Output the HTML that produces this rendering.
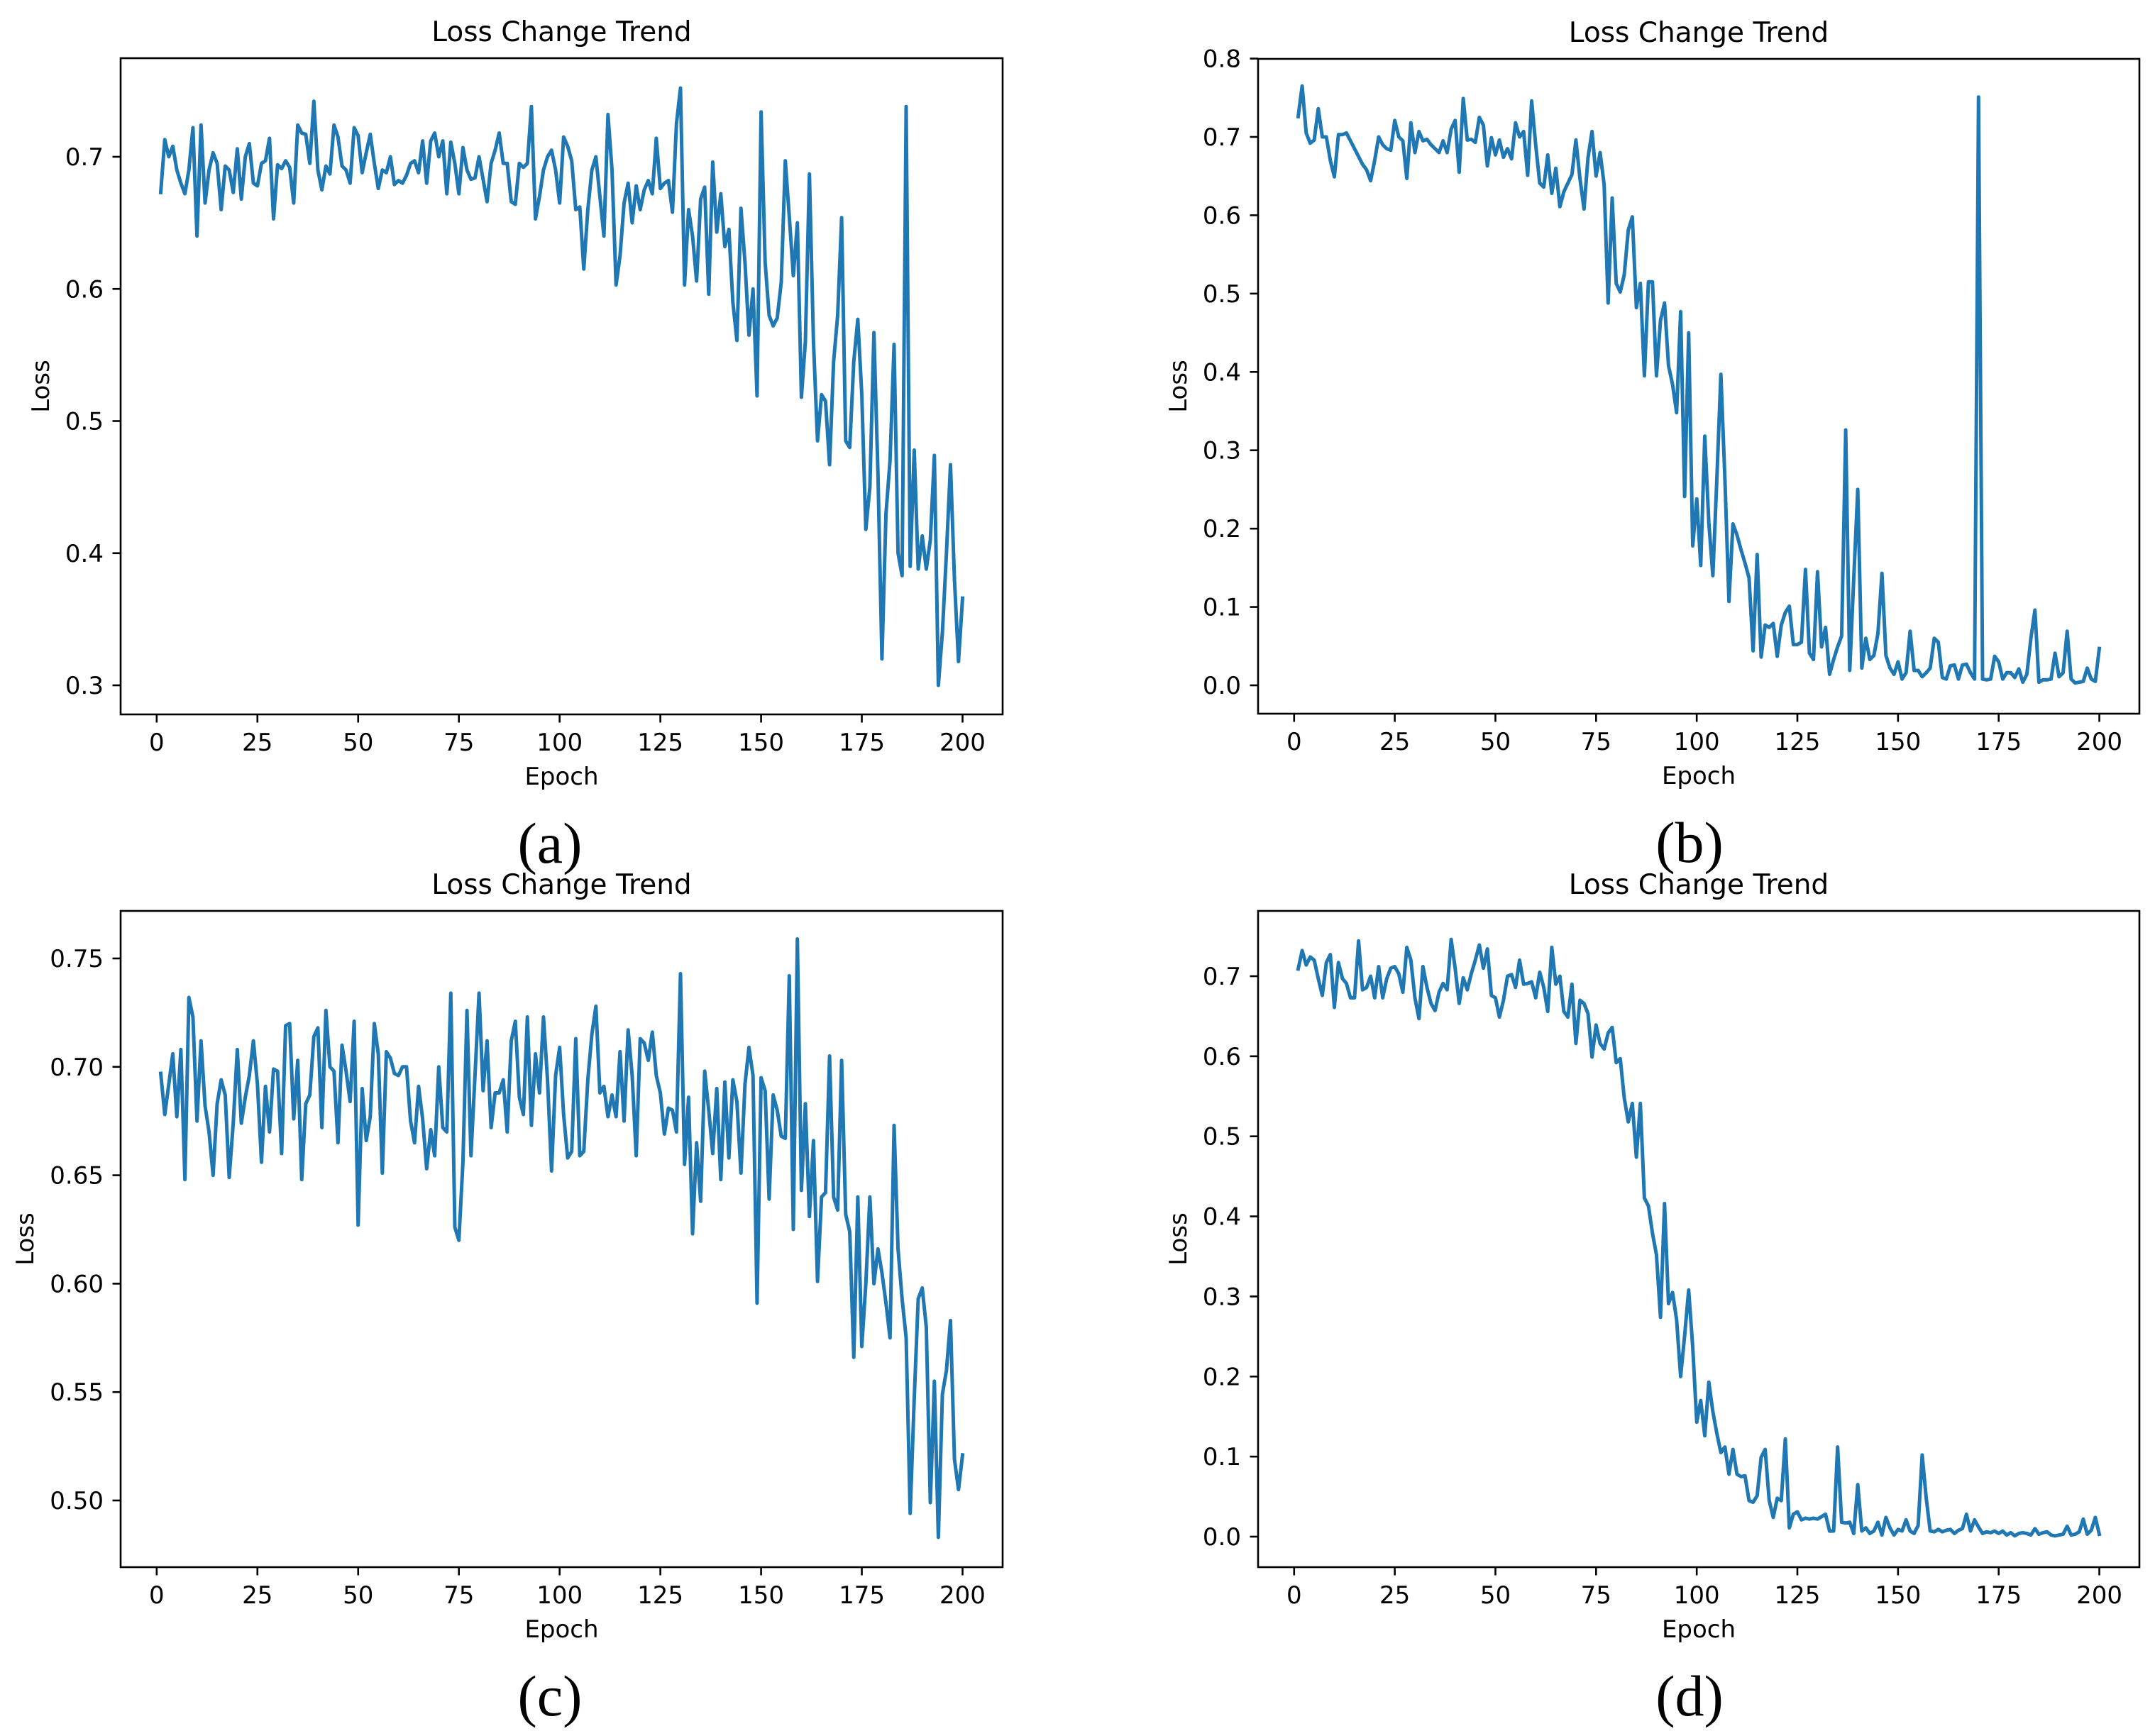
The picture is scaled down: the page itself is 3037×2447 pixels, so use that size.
<!DOCTYPE html>
<html><head><meta charset="utf-8">
<style>
html,body{margin:0;padding:0;background:#fff;}
svg{display:block;}
text{font-family:"DejaVu Sans","Liberation Sans",sans-serif;fill:#000;}
.cap{font-family:"Liberation Serif",serif;}
</style></head>
<body>
<svg id="fig" width="3037" height="2447" viewBox="0 0 3037 2447" xmlns="http://www.w3.org/2000/svg"></svg>
<script>
const epochs = Array.from({length:200},(_,i)=>i+1);
const xTicks = [0,25,50,75,100,125,150,175,200];

const lossA = [
0.673,0.713,0.700,0.708,0.690,0.680,0.672,0.690,0.722,0.640,
0.724,0.665,0.690,0.703,0.695,0.660,0.693,0.690,0.673,0.706,
0.668,0.700,0.710,0.680,0.678,0.695,0.697,0.714,0.653,0.694,
0.691,0.697,0.692,0.665,0.724,0.718,0.717,0.695,0.742,0.690,
0.675,0.693,0.687,0.724,0.715,0.693,0.690,0.680,0.722,0.716,
0.688,0.703,0.717,0.695,0.676,0.690,0.688,0.700,0.679,0.682,
0.680,0.686,0.695,0.697,0.688,0.712,0.680,0.712,0.718,0.700,
0.712,0.672,0.711,0.695,0.672,0.707,0.690,0.683,0.684,0.700,
0.683,0.666,0.695,0.705,0.718,0.695,0.695,0.666,0.664,0.695,
0.692,0.695,0.738,0.653,0.670,0.690,0.700,0.705,0.690,0.665,
0.715,0.708,0.697,0.660,0.662,0.615,0.660,0.690,0.700,0.670,
0.640,0.732,0.690,0.603,0.625,0.665,0.680,0.650,0.678,0.660,
0.675,0.682,0.672,0.714,0.676,0.680,0.682,0.658,0.725,0.752,
0.603,0.660,0.640,0.606,0.668,0.677,0.596,0.696,0.643,0.672,
0.632,0.645,0.590,0.561,0.661,0.620,0.565,0.600,0.519,0.734,
0.620,0.580,0.572,0.578,0.605,0.697,0.655,0.610,0.650,0.518,
0.560,0.687,0.560,0.485,0.520,0.515,0.467,0.545,0.580,0.654,
0.485,0.480,0.545,0.577,0.520,0.418,0.450,0.567,0.460,0.320,
0.430,0.470,0.558,0.400,0.383,0.738,0.390,0.478,0.388,0.413,
0.388,0.410,0.474,0.300,0.340,0.400,0.467,0.380,0.318,0.366];

const lossB = [
0.726,0.765,0.705,0.692,0.696,0.736,0.700,0.700,0.670,0.649,
0.703,0.703,0.705,0.695,0.685,0.675,0.665,0.658,0.644,0.670,
0.700,0.690,0.685,0.683,0.721,0.700,0.695,0.647,0.718,0.680,
0.707,0.695,0.697,0.690,0.685,0.680,0.695,0.680,0.710,0.721,
0.655,0.749,0.696,0.697,0.693,0.725,0.715,0.663,0.699,0.677,
0.696,0.674,0.685,0.672,0.718,0.700,0.707,0.651,0.746,0.690,
0.641,0.636,0.677,0.628,0.660,0.611,0.630,0.641,0.652,0.696,
0.647,0.608,0.674,0.707,0.650,0.680,0.639,0.488,0.622,0.513,
0.502,0.524,0.581,0.598,0.482,0.513,0.395,0.515,0.515,0.395,
0.466,0.488,0.408,0.384,0.348,0.477,0.241,0.450,0.178,0.238,
0.153,0.318,0.208,0.140,0.263,0.397,0.263,0.107,0.206,0.192,
0.173,0.156,0.137,0.044,0.167,0.036,0.077,0.074,0.079,0.037,
0.077,0.093,0.101,0.052,0.052,0.055,0.148,0.041,0.033,0.145,
0.049,0.074,0.014,0.033,0.049,0.063,0.326,0.019,0.135,0.250,
0.022,0.060,0.033,0.038,0.066,0.143,0.038,0.022,0.014,0.030,
0.008,0.016,0.069,0.019,0.019,0.011,0.016,0.022,0.060,0.055,
0.010,0.008,0.025,0.026,0.008,0.026,0.027,0.016,0.008,0.751,
0.008,0.007,0.008,0.037,0.030,0.008,0.016,0.016,0.010,0.021,
0.004,0.014,0.060,0.096,0.004,0.007,0.007,0.008,0.041,0.011,
0.016,0.069,0.008,0.003,0.004,0.005,0.022,0.008,0.005,0.047];

const lossC = [
0.697,0.678,0.692,0.706,0.677,0.708,0.648,0.732,0.723,0.675,
0.712,0.682,0.670,0.650,0.683,0.694,0.687,0.649,0.674,0.708,
0.674,0.686,0.696,0.712,0.692,0.656,0.691,0.670,0.699,0.698,
0.660,0.719,0.720,0.676,0.703,0.648,0.683,0.687,0.714,0.718,
0.672,0.726,0.700,0.698,0.665,0.710,0.698,0.684,0.721,0.627,
0.690,0.666,0.677,0.720,0.706,0.651,0.707,0.704,0.697,0.696,
0.700,0.700,0.675,0.665,0.691,0.676,0.653,0.671,0.659,0.700,
0.672,0.670,0.734,0.626,0.620,0.656,0.726,0.659,0.696,0.734,
0.689,0.712,0.672,0.688,0.688,0.694,0.670,0.712,0.721,0.686,
0.678,0.723,0.673,0.706,0.688,0.723,0.694,0.652,0.696,0.709,
0.678,0.658,0.661,0.713,0.659,0.661,0.694,0.715,0.728,0.688,
0.691,0.677,0.687,0.677,0.707,0.675,0.717,0.696,0.659,0.713,
0.711,0.703,0.716,0.696,0.688,0.669,0.681,0.680,0.670,0.743,
0.655,0.686,0.623,0.665,0.638,0.698,0.680,0.660,0.690,0.648,
0.693,0.658,0.694,0.684,0.651,0.692,0.709,0.696,0.591,0.695,
0.689,0.639,0.687,0.680,0.668,0.667,0.742,0.625,0.759,0.643,
0.683,0.631,0.666,0.601,0.640,0.642,0.705,0.640,0.634,0.703,
0.632,0.624,0.566,0.640,0.571,0.600,0.640,0.600,0.616,0.605,
0.591,0.575,0.673,0.616,0.593,0.575,0.494,0.547,0.593,0.598,
0.580,0.499,0.555,0.483,0.549,0.560,0.583,0.519,0.505,0.521];

const lossD = [
0.709,0.732,0.714,0.724,0.720,0.697,0.676,0.717,0.727,0.661,
0.717,0.697,0.691,0.673,0.673,0.744,0.683,0.686,0.700,0.673,
0.712,0.673,0.697,0.710,0.712,0.703,0.680,0.736,0.720,0.673,
0.647,0.712,0.686,0.666,0.657,0.680,0.691,0.683,0.746,0.710,
0.666,0.698,0.683,0.703,0.720,0.739,0.710,0.734,0.676,0.673,
0.649,0.670,0.700,0.702,0.686,0.720,0.690,0.691,0.693,0.673,
0.705,0.686,0.656,0.736,0.690,0.700,0.656,0.649,0.690,0.616,
0.670,0.666,0.653,0.599,0.639,0.616,0.609,0.629,0.636,0.592,
0.597,0.548,0.518,0.541,0.474,0.541,0.423,0.413,0.379,0.352,
0.274,0.416,0.291,0.305,0.271,0.200,0.251,0.308,0.237,0.143,
0.170,0.126,0.193,0.156,0.129,0.105,0.112,0.078,0.109,0.078,
0.075,0.076,0.045,0.043,0.051,0.099,0.109,0.045,0.024,0.048,
0.045,0.122,0.011,0.028,0.031,0.021,0.023,0.022,0.023,0.022,
0.025,0.028,0.007,0.007,0.112,0.018,0.017,0.018,0.004,0.065,
0.007,0.011,0.004,0.007,0.018,0.002,0.024,0.011,0.002,0.009,
0.007,0.021,0.007,0.004,0.014,0.102,0.048,0.007,0.006,0.009,
0.006,0.008,0.009,0.004,0.008,0.010,0.028,0.007,0.021,0.012,
0.004,0.006,0.005,0.007,0.004,0.007,0.002,0.005,0.001,0.004,
0.005,0.004,0.002,0.010,0.003,0.005,0.006,0.002,0.001,0.002,
0.003,0.013,0.002,0.003,0.006,0.022,0.003,0.008,0.024,0.003];

const ticksA = [0.3,0.4,0.5,0.6,0.7];
const tickLabelsA = ["0.3","0.4","0.5","0.6","0.7"];
const ticksB = [0,0.1,0.2,0.3,0.4,0.5,0.6,0.7,0.8];
const tickLabelsB = ["0.0","0.1","0.2","0.3","0.4","0.5","0.6","0.7","0.8"];
const ticksC = [0.50,0.55,0.60,0.65,0.70,0.75];
const tickLabelsC = ["0.50","0.55","0.60","0.65","0.70","0.75"];
const ticksD = [0,0.1,0.2,0.3,0.4,0.5,0.6,0.7];
const tickLabelsD = ["0.0","0.1","0.2","0.3","0.4","0.5","0.6","0.7"];

const NS = "http://www.w3.org/2000/svg";
const svg = document.getElementById('fig');
function mk(tag, attrs, parent){
  const e = document.createElementNS(NS, tag);
  for (const k in attrs) e.setAttribute(k, attrs[k]);
  (parent||svg).appendChild(e);
  return e;
}

function panel(cfg){
  const g = mk('g', {});
  
  
  const L=cfg.box[0], T=cfg.box[1], R=cfg.box[2], B=cfg.box[3];
  const W = R-L;
  const xmin = 1 - 0.05*199, xmax = 200 + 0.05*199;
  const sx = v => L + (v - xmin)/(xmax - xmin)*W;
  const sy = v => cfg.y1 + (v - cfg.v1)*(cfg.y2 - cfg.y1)/(cfg.v2 - cfg.v1);

  let d = '';
  cfg.data.forEach((v,i)=>{ d += (i?'L':'M') + sx(epochs[i]).toFixed(1) + ',' + sy(v).toFixed(1); });
  const clip = mk('clipPath', {id:'clip-'+cfg.id}, g);
  mk('rect', {x:L, y:T, width:W, height:B-T}, clip);
  const line = mk('path', {d:d, fill:'none', stroke:'#1f77b4', 'stroke-width':5, 'stroke-linejoin':'round', 'stroke-linecap':'square', 'clip-path':'url(#clip-'+cfg.id+')'}, g);
  
  

  const fr = mk('rect', {x:L, y:T, width:W, height:B-T, fill:'none', stroke:'#000', 'stroke-width':2.6}, g);
  
  

  xTicks.forEach(t=>{
    const x = sx(t);
    mk('line', {x1:x, y1:B, x2:x, y2:B+11.5, stroke:'#000', 'stroke-width':2.6}, g);
    const tx = mk('text', {x:x, y:B+51, 'font-size':34, 'text-anchor':'middle'}, g);
    tx.textContent = t;
    
    
  });
  cfg.ticks.forEach((t,i)=>{
    const y = sy(t);
    mk('line', {x1:L-11.5, y1:y, x2:L, y2:y, stroke:'#000', 'stroke-width':2.6}, g);
    const ty = mk('text', {x:L-24, y:y+12, 'font-size':34, 'text-anchor':'end'}, g);
    ty.textContent = cfg.labels[i];
    
    
  });
  const ti = mk('text', {x:(L+R)/2, y:T-24, 'font-size':39, 'text-anchor':'middle'}, g);
  ti.textContent = 'Loss Change Trend';
  
  
  const xl = mk('text', {x:(L+R)/2, y:B+99, 'font-size':34, 'text-anchor':'middle'}, g);
  xl.textContent = 'Epoch';
  
  
  const yc = (T+B)/2;
  const yl = mk('text', {x:cfg.ylx, y:yc, 'font-size':34, 'text-anchor':'middle', transform:'rotate(-90 '+cfg.ylx+' '+yc+')'}, g);
  yl.textContent = 'Loss';
  
  
  const cp = mk('text', {x:cfg.capx, y:B+209, 'font-size':82, 'text-anchor':'middle', 'class':'cap'}, g);
  cp.textContent = '(' + cfg.id + ')';
  
  
}

panel({id:'a', box:[170,82,1413,1007], data:lossA, ticks:ticksA, labels:tickLabelsA, v1:0.7, y1:221, v2:0.3, y2:966, ylx:69, capx:775});
panel({id:'b', box:[1773,83,3015,1006], data:lossB, ticks:ticksB, labels:tickLabelsB, v1:0.7, y1:193, v2:0.0, y2:966, ylx:1672, capx:2381});
panel({id:'c', box:[170,1284,1413,2209], data:lossC, ticks:ticksC, labels:tickLabelsC, v1:0.75, y1:1351, v2:0.50, y2:2115, ylx:47, capx:775});
panel({id:'d', box:[1773,1284,3015,2209], data:lossD, ticks:ticksD, labels:tickLabelsD, v1:0.7, y1:1376, v2:0.0, y2:2166, ylx:1672, capx:2381});
</script>
</body></html>
